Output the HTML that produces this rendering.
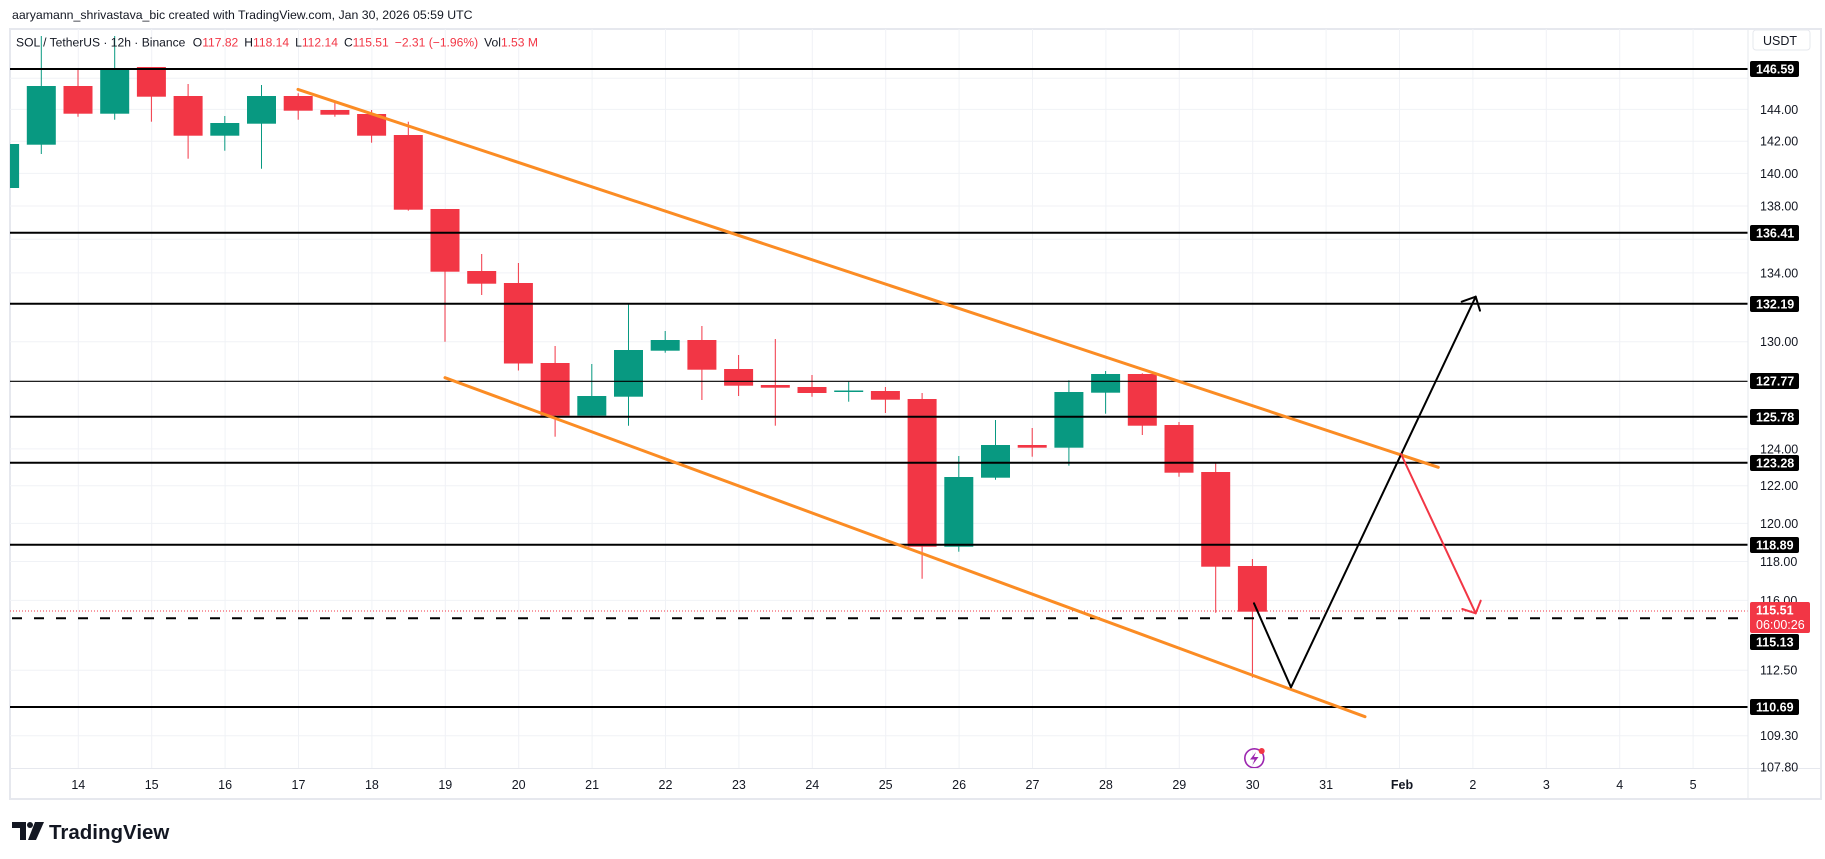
<!DOCTYPE html>
<html><head><meta charset="utf-8"><style>
html,body{margin:0;padding:0;background:#fff;}
body{width:1825px;height:859px;overflow:hidden;position:relative;font-family:"Liberation Sans",sans-serif;}
</style></head><body>
<svg width="1825" height="859" viewBox="0 0 1825 859" xmlns="http://www.w3.org/2000/svg" style="position:absolute;left:0;top:0;font-family:'Liberation Sans',sans-serif">
<text x="12" y="19" font-size="12.3" fill="#131722">aaryamann_shrivastava_bic created with TradingView.com, Jan 30, 2026 05:59 UTC</text>
<rect x="10" y="29" width="1811" height="770" fill="#fff" stroke="#e6e8ee" stroke-width="2"/>
<g stroke="#f0f2f6" stroke-width="1">
<line x1="10" x2="1748" y1="78.2" y2="78.2"/><line x1="10" x2="1748" y1="109.4" y2="109.4"/><line x1="10" x2="1748" y1="141.2" y2="141.2"/><line x1="10" x2="1748" y1="173.4" y2="173.4"/><line x1="10" x2="1748" y1="206" y2="206"/><line x1="10" x2="1748" y1="239.2" y2="239.2"/><line x1="10" x2="1748" y1="272.9" y2="272.9"/><line x1="10" x2="1748" y1="341.7" y2="341.7"/><line x1="10" x2="1748" y1="448.9" y2="448.9"/><line x1="10" x2="1748" y1="485.8" y2="485.8"/><line x1="10" x2="1748" y1="523.4" y2="523.4"/><line x1="10" x2="1748" y1="561.5" y2="561.5"/><line x1="10" x2="1748" y1="600.4" y2="600.4"/><line x1="10" x2="1748" y1="670.2" y2="670.2"/><line x1="10" x2="1748" y1="735.7" y2="735.7"/>
<line y1="29" y2="768" x1="78.3" x2="78.3"/><line y1="29" y2="768" x1="151.7" x2="151.7"/><line y1="29" y2="768" x1="225.1" x2="225.1"/><line y1="29" y2="768" x1="298.5" x2="298.5"/><line y1="29" y2="768" x1="371.9" x2="371.9"/><line y1="29" y2="768" x1="445.3" x2="445.3"/><line y1="29" y2="768" x1="518.7" x2="518.7"/><line y1="29" y2="768" x1="592.1" x2="592.1"/><line y1="29" y2="768" x1="665.5" x2="665.5"/><line y1="29" y2="768" x1="738.9" x2="738.9"/><line y1="29" y2="768" x1="812.3" x2="812.3"/><line y1="29" y2="768" x1="885.7" x2="885.7"/><line y1="29" y2="768" x1="959.1" x2="959.1"/><line y1="29" y2="768" x1="1032.5" x2="1032.5"/><line y1="29" y2="768" x1="1105.9" x2="1105.9"/><line y1="29" y2="768" x1="1179.3" x2="1179.3"/><line y1="29" y2="768" x1="1252.7" x2="1252.7"/><line y1="29" y2="768" x1="1326.1" x2="1326.1"/><line y1="29" y2="768" x1="1399.5" x2="1399.5"/><line y1="29" y2="768" x1="1472.9" x2="1472.9"/><line y1="29" y2="768" x1="1546.3" x2="1546.3"/><line y1="29" y2="768" x1="1619.7" x2="1619.7"/><line y1="29" y2="768" x1="1693.1" x2="1693.1"/>
<line x1="10" x2="1821" y1="768.5" y2="768.5" stroke="#e6e8ee"/>
</g>
<defs><clipPath id="pc"><rect x="10" y="30" width="1738" height="738"/></clipPath></defs>
<g clip-path="url(#pc)">
<g stroke-width="1">
<rect x="-9.9" y="144" width="29" height="44" fill="#089981"/>
<line x1="41.3" x2="41.3" y1="36" y2="154" stroke="#089981"/><rect x="26.8" y="86" width="29" height="58.7" fill="#089981"/>
<line x1="78" x2="78" y1="69.3" y2="116.7" stroke="#f23645"/><rect x="63.5" y="86" width="29" height="27.7" fill="#f23645"/>
<line x1="114.7" x2="114.7" y1="36" y2="119.7" stroke="#089981"/><rect x="100.2" y="68" width="29" height="45.7" fill="#089981"/>
<line x1="151.4" x2="151.4" y1="67" y2="121.7" stroke="#f23645"/><rect x="136.9" y="67" width="29" height="29.7" fill="#f23645"/>
<line x1="188.1" x2="188.1" y1="84" y2="158.7" stroke="#f23645"/><rect x="173.6" y="96" width="29" height="39.7" fill="#f23645"/>
<line x1="224.8" x2="224.8" y1="116" y2="150.7" stroke="#089981"/><rect x="210.3" y="123" width="29" height="12.7" fill="#089981"/>
<line x1="261.5" x2="261.5" y1="85" y2="168.7" stroke="#089981"/><rect x="247" y="96" width="29" height="27.7" fill="#089981"/>
<line x1="298.2" x2="298.2" y1="93.3" y2="119.7" stroke="#f23645"/><rect x="283.7" y="96" width="29" height="14.7" fill="#f23645"/>
<line x1="334.9" x2="334.9" y1="102.7" y2="116.7" stroke="#f23645"/><rect x="320.4" y="110" width="29" height="4.7" fill="#f23645"/>
<line x1="371.6" x2="371.6" y1="110" y2="142.7" stroke="#f23645"/><rect x="357.1" y="114" width="29" height="21.7" fill="#f23645"/>
<line x1="408.3" x2="408.3" y1="121.7" y2="210.7" stroke="#f23645"/><rect x="393.8" y="135" width="29" height="74.7" fill="#f23645"/>
<line x1="445" x2="445" y1="209" y2="341.7" stroke="#f23645"/><rect x="430.5" y="209" width="29" height="62.7" fill="#f23645"/>
<line x1="481.7" x2="481.7" y1="254" y2="295" stroke="#f23645"/><rect x="467.2" y="271" width="29" height="12.7" fill="#f23645"/>
<line x1="518.4" x2="518.4" y1="263" y2="370.5" stroke="#f23645"/><rect x="503.9" y="283" width="29" height="80.5" fill="#f23645"/>
<line x1="555.1" x2="555.1" y1="346" y2="436.7" stroke="#f23645"/><rect x="540.6" y="363" width="29" height="52.7" fill="#f23645"/>
<line x1="591.8" x2="591.8" y1="364" y2="415.7" stroke="#089981"/><rect x="577.3" y="396" width="29" height="19.7" fill="#089981"/>
<line x1="628.5" x2="628.5" y1="304.3" y2="425.7" stroke="#089981"/><rect x="614" y="350" width="29" height="46.7" fill="#089981"/>
<line x1="665.2" x2="665.2" y1="331" y2="352.7" stroke="#089981"/><rect x="650.7" y="340" width="29" height="10.7" fill="#089981"/>
<line x1="701.9" x2="701.9" y1="326" y2="400" stroke="#f23645"/><rect x="687.4" y="340" width="29" height="29.7" fill="#f23645"/>
<line x1="738.6" x2="738.6" y1="355" y2="396" stroke="#f23645"/><rect x="724.1" y="369" width="29" height="16.7" fill="#f23645"/>
<line x1="775.3" x2="775.3" y1="339" y2="425.7" stroke="#f23645"/><rect x="760.8" y="385" width="29" height="2.7" fill="#f23645"/>
<line x1="812" x2="812" y1="375" y2="396.7" stroke="#f23645"/><rect x="797.5" y="387" width="29" height="6" fill="#f23645"/>
<line x1="848.7" x2="848.7" y1="381.7" y2="401.7" stroke="#089981"/><rect x="834.2" y="390.5" width="29" height="1.5" fill="#089981"/>
<line x1="885.4" x2="885.4" y1="387" y2="413" stroke="#f23645"/><rect x="870.9" y="391" width="29" height="8.7" fill="#f23645"/>
<line x1="922.1" x2="922.1" y1="393" y2="578.7" stroke="#f23645"/><rect x="907.6" y="399" width="29" height="147.7" fill="#f23645"/>
<line x1="958.8" x2="958.8" y1="456" y2="551.7" stroke="#089981"/><rect x="944.3" y="477" width="29" height="69.7" fill="#089981"/>
<line x1="995.5" x2="995.5" y1="420" y2="479.7" stroke="#089981"/><rect x="981" y="445" width="29" height="32.7" fill="#089981"/>
<line x1="1032.2" x2="1032.2" y1="428" y2="456.7" stroke="#f23645"/><rect x="1017.7" y="445" width="29" height="2.7" fill="#f23645"/>
<line x1="1068.9" x2="1068.9" y1="380.3" y2="465.7" stroke="#089981"/><rect x="1054.4" y="392" width="29" height="55.7" fill="#089981"/>
<line x1="1105.6" x2="1105.6" y1="371" y2="413.7" stroke="#089981"/><rect x="1091.1" y="374" width="29" height="18.7" fill="#089981"/>
<line x1="1142.3" x2="1142.3" y1="373.3" y2="435" stroke="#f23645"/><rect x="1127.8" y="374" width="29" height="51.7" fill="#f23645"/>
<line x1="1179" x2="1179" y1="422" y2="476.7" stroke="#f23645"/><rect x="1164.5" y="425" width="29" height="47.7" fill="#f23645"/>
<line x1="1215.7" x2="1215.7" y1="463.3" y2="612.7" stroke="#f23645"/><rect x="1201.2" y="472" width="29" height="94.7" fill="#f23645"/>
<line x1="1252.4" x2="1252.4" y1="559" y2="677.6" stroke="#f23645"/><rect x="1237.9" y="566" width="29" height="45.7" fill="#f23645"/>
</g>
<g stroke="#000">
<line x1="10" x2="1750" y1="69" y2="69" stroke-width="2"/>
<line x1="10" x2="1750" y1="232.8" y2="232.8" stroke-width="2"/>
<line x1="10" x2="1750" y1="303.7" y2="303.7" stroke-width="2"/>
<line x1="10" x2="1750" y1="381.3" y2="381.3" stroke-width="1.2"/>
<line x1="10" x2="1750" y1="416.7" y2="416.7" stroke-width="2"/>
<line x1="10" x2="1750" y1="462.7" y2="462.7" stroke-width="2"/>
<line x1="10" x2="1750" y1="544.7" y2="544.7" stroke-width="2"/>
<line x1="10" x2="1750" y1="707" y2="707" stroke-width="2"/>
<line x1="12" x2="1750" y1="618.3" y2="618.3" stroke-width="2" stroke-dasharray="10,12"/>
</g>
<line x1="10" x2="1750" y1="611" y2="611" stroke="#f23645" stroke-width="1" stroke-dasharray="1,2"/>
<g stroke="#fb8c24" stroke-width="3" stroke-linecap="round">
<line x1="298" y1="89.4" x2="1438.3" y2="467.3"/>
<line x1="445" y1="377.7" x2="1365" y2="716.7"/>
</g>
<g fill="none" stroke-linecap="round" stroke-linejoin="round">
<polyline points="1254,603.3 1291,687.3 1475.7,296.7" stroke="#000" stroke-width="2"/>
<polyline points="1461.7,301.7 1475.7,296.7 1480,310.7" stroke="#000" stroke-width="2"/>
<line x1="1401" y1="454" x2="1475.7" y2="613.3" stroke="#f23645" stroke-width="2"/>
<polyline points="1462.3,609 1475.7,613.3 1480.7,600.7" stroke="#f23645" stroke-width="2"/>
</g>
<circle cx="1254.3" cy="758.3" r="9.5" fill="none" stroke="#9c27b0" stroke-width="1.6"/>
<path d="M1256,752 L1250,759.5 L1254.5,759.5 L1252.5,765 L1258.5,757 L1254,757 Z" fill="#9c27b0"/>
<circle cx="1261.7" cy="751" r="3" fill="#f23645"/>
</g>
<line x1="1748" x2="1748" y1="29" y2="799" stroke="#e6e8ee" stroke-width="1"/>
<text x="16" y="46.5" font-size="12.1" fill="#131722">SOL / TetherUS · 12h · Binance <tspan dx="4">O</tspan><tspan fill="#f23645">117.82</tspan><tspan dx="6">H</tspan><tspan fill="#f23645">118.14</tspan><tspan dx="6">L</tspan><tspan fill="#f23645">112.14</tspan><tspan dx="6">C</tspan><tspan fill="#f23645">115.51</tspan><tspan dx="6" fill="#f23645">−2.31 (−1.96%)</tspan><tspan dx="6">Vol</tspan><tspan fill="#f23645">1.53 M</tspan></text>
<rect x="1753" y="30" width="57" height="20" rx="3" fill="#fff" stroke="#e6e8ee"/>
<text x="1763" y="45" font-size="12.5" fill="#131722">USDT</text>
<g font-size="12.5" fill="#131722">
<text x="1760" y="113.8">144.00</text><text x="1760" y="145.6">142.00</text><text x="1760" y="177.8">140.00</text><text x="1760" y="210.4">138.00</text><text x="1760" y="277.3">134.00</text><text x="1760" y="346.1">130.00</text><text x="1760" y="453.3">124.00</text><text x="1760" y="490.2">122.00</text><text x="1760" y="527.8">120.00</text><text x="1760" y="565.9">118.00</text><text x="1760" y="604.8">116.00</text><text x="1760" y="674.6">112.50</text><text x="1760" y="740.1">109.30</text><text x="1760" y="771.5">107.80</text>
</g>
<g font-size="12.5" font-weight="bold" fill="#fff">
<rect x="1750" y="61" width="49" height="16" rx="2" fill="#000"/><text x="1756" y="73.5">146.59</text>
<rect x="1750" y="225" width="49" height="16" rx="2" fill="#000"/><text x="1756" y="237.5">136.41</text>
<rect x="1750" y="296" width="49" height="16" rx="2" fill="#000"/><text x="1756" y="308.5">132.19</text>
<rect x="1750" y="373" width="49" height="16" rx="2" fill="#000"/><text x="1756" y="385.5">127.77</text>
<rect x="1750" y="409" width="49" height="16" rx="2" fill="#000"/><text x="1756" y="421.5">125.78</text>
<rect x="1750" y="455" width="49" height="16" rx="2" fill="#000"/><text x="1756" y="467.5">123.28</text>
<rect x="1750" y="537" width="49" height="16" rx="2" fill="#000"/><text x="1756" y="549.5">118.89</text>
<rect x="1750" y="602" width="60" height="31" rx="2" fill="#f23645"/><text x="1756" y="614.5">115.51</text><text x="1756" y="629" font-weight="normal">06:00:26</text>
<rect x="1750" y="634" width="49" height="16" rx="2" fill="#000"/><text x="1756" y="646.5">115.13</text>
<rect x="1750" y="699" width="49" height="16" rx="2" fill="#000"/><text x="1756" y="711.5">110.69</text>
</g>
<g font-size="12.5" fill="#131722" text-anchor="middle">
<text x="78.3" y="789">14</text><text x="151.7" y="789">15</text><text x="225.1" y="789">16</text><text x="298.5" y="789">17</text><text x="371.9" y="789">18</text><text x="445.3" y="789">19</text><text x="518.7" y="789">20</text><text x="592.1" y="789">21</text><text x="665.5" y="789">22</text><text x="738.9" y="789">23</text><text x="812.3" y="789">24</text><text x="885.7" y="789">25</text><text x="959.1" y="789">26</text><text x="1032.5" y="789">27</text><text x="1105.9" y="789">28</text><text x="1179.3" y="789">29</text><text x="1252.7" y="789">30</text><text x="1326.1" y="789">31</text><text x="1402" y="789" font-weight="bold">Feb</text><text x="1472.9" y="789">2</text><text x="1546.3" y="789">3</text><text x="1619.7" y="789">4</text><text x="1693.1" y="789">5</text>
</g>
<g fill="#131722">
<path d="M12,822 h14 v18 h-6 v-12 h-8 z"/>
<circle cx="30" cy="825" r="3"/>
<path d="M35,822 h9 l-8,18 h-8 z"/>
</g>
<text x="49" y="839" font-size="20.5" font-weight="bold" fill="#131722">TradingView</text>
</svg>
</body></html>
